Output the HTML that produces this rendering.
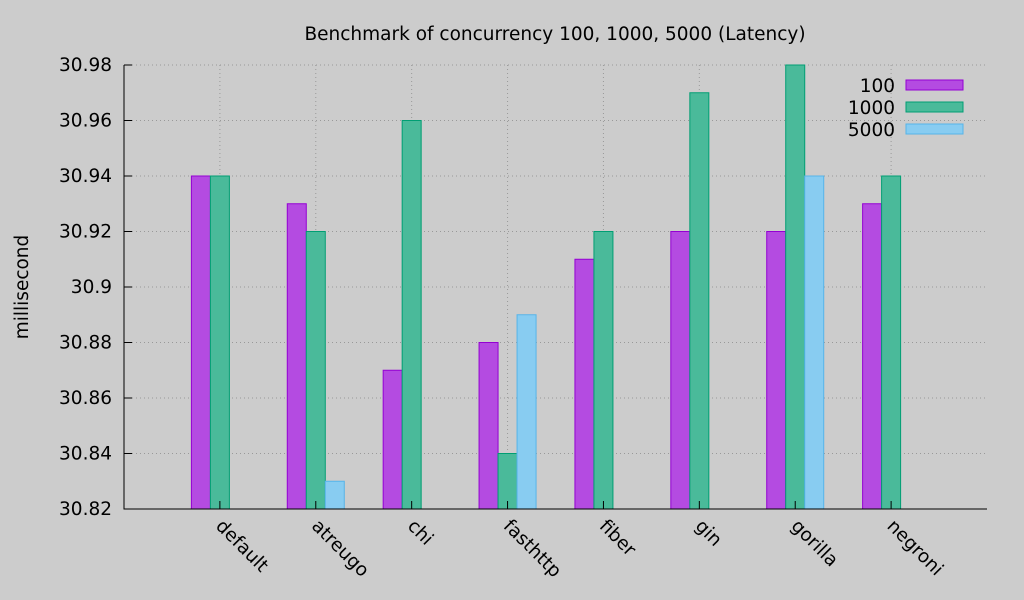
<!DOCTYPE html>
<html><head><meta charset="utf-8"><style>
body{margin:0;background:#ccc;}
svg{display:block;font-family:"DejaVu Sans","Liberation Sans",sans-serif;}
</style></head><body>
<svg id="chart" width="1024" height="600">
<rect width="1024" height="600" fill="#cccccc"/>
<text x="555" y="40" font-size="18.5" text-anchor="middle">Benchmark of concurrency 100, 1000, 5000 (Latency)</text>
<text transform="translate(28,287) rotate(-90)" font-size="18.5" text-anchor="middle">millisecond</text>
<g id="grid"></g><g id="bars"></g><g id="axes"></g><g id="legend"></g>
</svg>
<script>
const categories=["default","atreugo","chi","fasthttp","fiber","gin","gorilla","negroni"];
const series100=[30.94,30.93,30.87,30.88,30.91,30.92,30.92,30.93];
const series1000=[30.94,30.92,30.96,30.84,30.92,30.97,30.98,30.94];
const series5000=[30.82,30.83,30.82,30.89,30.82,30.82,30.94,30.82];
const yTicks=[30.82,30.84,30.86,30.88,30.9,30.92,30.94,30.96,30.98];
const seriesNames=["100","1000","5000"];
const NS="http://www.w3.org/2000/svg";
const L=124,R=987,T=65,B=509,yMin=30.82,yMax=30.98;
const y=v=>B-(v-yMin)/(yMax-yMin)*(B-T);
const slot=(R-L)/(categories.length+1);
const xc=i=>L+slot*(i+1);
const bw=19;
function mk(tag,attrs,parent){const e=document.createElementNS(NS,tag);for(const k in attrs)e.setAttribute(k,attrs[k]);parent.appendChild(e);return e;}
const grid=document.getElementById('grid'),bars=document.getElementById('bars'),axes=document.getElementById('axes'),legend=document.getElementById('legend');
yTicks.forEach((t,k)=>{
 const g=mk('line',{x1:L,x2:R,y1:y(t),y2:y(t),stroke:'#999',"stroke-dasharray":'1,3'},grid);
 
 
 const tk=mk('line',{x1:L,x2:L+8,y1:y(t),y2:y(t),stroke:'#000'},axes);
 
 
 const lb=mk('text',{x:112,y:y(t)+6,"font-size":18.5,"text-anchor":'end'},axes);
 lb.textContent=String(t);
 
 
});
categories.forEach((c,i)=>{
 const g=mk('line',{x1:xc(i),x2:xc(i),y1:T,y2:B,stroke:'#999',"stroke-dasharray":'1,3'},grid);
 
 
 const tk=mk('line',{x1:xc(i),x2:xc(i),y1:B,y2:B-8,stroke:'#000'},axes);
 
 
 const lb=mk('text',{transform:`translate(${xc(i)-5},${B+18}) rotate(45)`,"font-size":18.5},axes);
 lb.textContent=c;
 
 
});
const fills=["#b44be1","#4aba9a","#88ccf1"],strokes=["#9400d3","#009e73","#56b4e9"];
[series100,series1000,series5000].forEach((s,si)=>{
 s.forEach((v,i)=>{
  const h=B-y(v); if(h<=0.5)return;
  const x0=xc(i)-1.5*bw+si*bw;
  const r=mk('rect',{x:x0,y:y(v),width:bw,height:h,fill:fills[si],stroke:strokes[si]},bars);
  
  
 });
 const lt=mk('text',{x:895,y:92+si*22,"font-size":18.5,"text-anchor":'end'},legend);
 lt.textContent=seriesNames[si];
 
 
 const sw=mk('rect',{x:906,y:80+si*22,width:57,height:10,fill:fills[si],stroke:strokes[si]},legend);
 
 
});
const ax=mk('path',{d:`M${L},${T} V${B} H${R}`,fill:'none',stroke:'#000'},axes);


</script>
</body></html>
